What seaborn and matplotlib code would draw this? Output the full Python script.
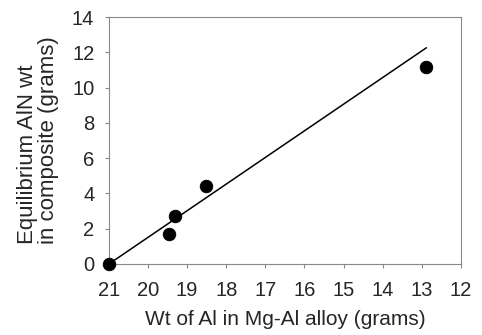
import matplotlib
matplotlib.use("Agg")
import matplotlib.pyplot as plt
import seaborn as sns
import pandas as pd

al_wt = [21.0, 19.47, 19.30, 18.52, 12.88]
aln_wt = [0.0, 1.68, 2.74, 4.42, 11.19]
line_x = [21.0, 12.88]
line_y = [0.0, 12.26]
x_ticks = [21, 20, 19, 18, 17, 16, 15, 14, 13, 12]
y_ticks = [0, 2, 4, 6, 8, 10, 12, 14]

sns.set_theme(style="white")
plt.rcParams['font.family'] = ['Liberation Sans', 'DejaVu Sans']

fig = plt.figure(figsize=(4.82, 3.35), dpi=100)
ax = fig.add_axes([0.226, 0.212, 0.730, 0.737])

df = pd.DataFrame({"x": al_wt, "y": aln_wt})
ldf = pd.DataFrame({"x": line_x, "y": line_y})
sns.lineplot(data=ldf, x="x", y="y", ax=ax, color="black", linewidth=1.1, sort=False)
sns.scatterplot(data=df, x="x", y="y", ax=ax, color="black", s=80, edgecolor="black", zorder=3, clip_on=False)

ax.set_xlim(21, 12)
ax.set_ylim(0, 14)
ax.set_xticks(x_ticks)
ax.set_yticks(y_ticks)
ax.tick_params(axis="both", which="both", direction="out", length=3, width=0.8,
               color="#888888", labelsize=14.5, bottom=True, left=True)
ax.tick_params(axis="x", pad=9.5)
ax.tick_params(axis="y", pad=7.5)
for s in ax.spines.values():
    s.set_color("#888888")
    s.set_linewidth(0.8)
ax.set_xlabel("Wt of Al in Mg-Al alloy (grams)", fontsize=15, labelpad=7)
ax.set_ylabel("Equilibrium AlN wt\nin composite (grams)", fontsize=16, labelpad=9,
              linespacing=1.0, multialignment="left")

fig.savefig("out.png", dpi=100)
